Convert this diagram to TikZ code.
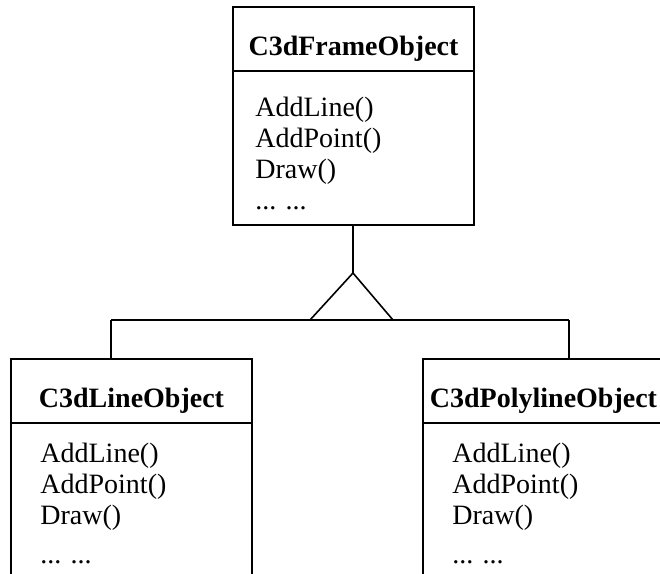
\documentclass[tikz,border=0pt]{standalone}
\usepackage{fontspec}
\setmainfont{Liberation Serif}
\usetikzlibrary{positioning,calc}

\tikzset{
  classtitle/.style={draw, line width=0.8pt, rectangle, minimum width=120.5pt,
    minimum height=32pt, inner sep=0pt, outer sep=0pt,
    text height=16pt, text depth=0pt,
    font=\fontsize{14}{16}\selectfont\bfseries},
  classbody/.style={draw, line width=0.8pt, rectangle, minimum width=120.5pt,
    inner sep=0pt, outer sep=0pt, anchor=north},
  methods/.style={align=left, anchor=north west, inner sep=0pt,
    font=\fontsize{14}{15.5}\selectfont},
  link/.style={line width=0.8pt}
}

\begin{document}
\begin{tikzpicture}[x=0.5pt,y=-0.5pt]
    \useasboundingbox (0,0) rectangle (660,574);

    % Base class
    \node[classtitle] (frametitle) at (353.5,39) {C3dFrameObject};
    \node[classbody, minimum height=77pt, below=0pt of frametitle] (framebody) {};
    \node[methods] (framemethods) at ($(framebody.north west)+(22,26)$)
        {AddLine()\\AddPoint()\\Draw()\\... ...};

    % Derived classes
    \node[classtitle] (linetitle) at (131.5,391) {C3dLineObject};
    \node[classbody, minimum height=80pt, below=0pt of linetitle] (linebody) {};
    \node[methods] (linemethods) at ($(linebody.north west)+(29,20)$)
        {AddLine()\\AddPoint()\\Draw()\\[4pt]... ...};

    \node[classtitle] (polytitle) at (543.5,391) {C3dPolylineObject};
    \node[classbody, minimum height=80pt, below=0pt of polytitle] (polybody) {};
    \node[methods] (polymethods) at ($(polybody.north west)+(29,20)$)
        {AddLine()\\AddPoint()\\Draw()\\[4pt]... ...};

    % Inheritance
    \coordinate (apex) at (353,273);
    \coordinate (baseL) at (310,320);
    \coordinate (baseR) at (393,320);
    \coordinate (busL) at (111,320);
    \coordinate (busR) at (569,320);

    \draw[link] (apex |- framebody.south) -- (apex);
    \draw[link, line join=miter] (apex) -- (baseL) -- (baseR) -- cycle;
    \draw[link] (busL) -- (busR);
    \draw[link] (busL) -- (busL |- linetitle.north);
    \draw[link] (busR) -- (busR |- polytitle.north);
\end{tikzpicture}
\end{document}
